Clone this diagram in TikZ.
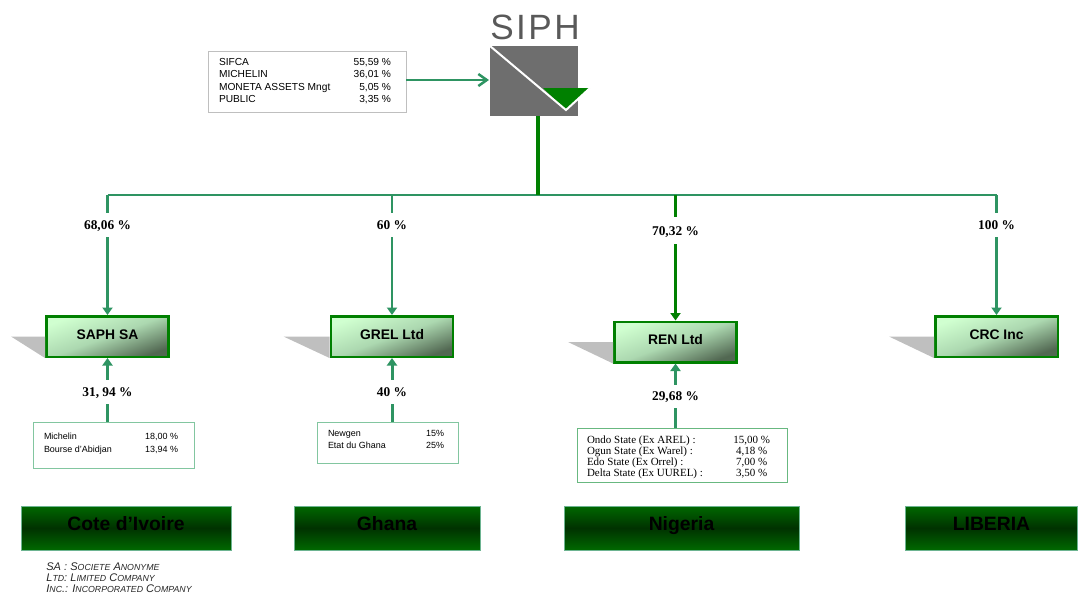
\documentclass[tikz,border=0pt]{standalone}
\usepackage{fontspec}
\setmainfont{Liberation Sans}
\newfontfamily\serifnum{Liberation Serif}
\usetikzlibrary{arrows.meta}
\definecolor{seagreen}{RGB}{46,148,98}
\definecolor{darkgreen}{RGB}{0,128,0}
\definecolor{logogray}{RGB}{110,110,110}
\definecolor{shadowgray}{RGB}{191,191,191}
\definecolor{boxlight}{RGB}{208,255,208}
\definecolor{boxmid}{RGB}{172,216,176}
\definecolor{boxdark}{RGB}{82,104,82}
\definecolor{barouter}{RGB}{0,104,0}
\definecolor{barinner}{RGB}{0,50,0}
\definecolor{holderline}{RGB}{130,198,160}
\newcommand{\smc}[1]{{\fontsize{5.0}{6.3}\selectfont #1}}
\newcommand{\pctrows}[3]{\begin{tabular*}{#1}{@{}l@{\extracolsep{\fill}}#2@{}}#3\end{tabular*}}
\tikzset{
company/.style={draw=darkgreen, line width=0.05cm, shade, top color=boxlight, bottom color=boxdark, middle color=boxmid, shading angle=20, minimum width=2.45cm, minimum height=0.81cm, text height=0.3cm, text depth=0.2cm, inner sep=0pt, font=\bfseries\fontsize{7.9}{9}\selectfont},
country/.style={draw=seagreen!70, line width=0.4pt, shade, top color=barouter, bottom color=barouter, middle color=barinner, minimum height=0.88cm, text height=0.3cm, text depth=0.192cm, inner sep=0pt, font=\bfseries\fontsize{11}{13}\selectfont},
holder/.style={draw=holderline, line width=0.55pt, inner sep=0pt, font=\fontsize{5.1}{7.2}\selectfont},
pctlabel/.style={minimum height=0.48cm, text height=0.22cm, text depth=0.03cm, inner sep=0pt, outer sep=0pt, font=\serifnum\bfseries\fontsize{7.6}{9}\selectfont},
busline/.style={draw=seagreen, line width=0.055cm},
owned/.style={busline, -{Triangle[width=0.2cm,length=0.15cm]}},
ownedren/.style={draw=darkgreen, line width=0.06cm, -{Triangle[width=0.2cm,length=0.15cm]}},
minority/.style={draw=seagreen, line width=0.06cm},
minorityarrow/.style={minority, -{Triangle[width=0.2cm,length=0.15cm]}},
shadowfill/.style={fill=shadowgray}
}
\begin{document}
\begin{tikzpicture}
[x=0.02cm, y=-0.02cm]
\useasboundingbox (0,0) rectangle (1078,593);
\node [text=black!65, font=\fontsize{20}{24}\selectfont\addfontfeature{LetterSpace=7}, inner sep=0pt] (siph) at (535,27.5) {SIPH};
\node [fill=logogray, minimum width=1.76cm, minimum height=1.4cm, inner sep=0pt, outer sep=0pt] (logo) at (534,81) {};
\coordinate (kink) at (566,110);
\coordinate (logoin) at (489,80);
\fill [darkgreen] (543,88) -- (590,88) -- (kink) -- cycle;
\draw [white, line width=0.04cm] (logo.north west) -- (kink) -- (590,88);
\node [holder, draw=shadowgray, font=\fontsize{5.8}{6.95}\selectfont, minimum width=3.96cm, minimum height=1.22cm] (sifca) at (307,81.5) {\pctrows{3.44cm}{r}{SIFCA & 55,59 \%\\ MICHELIN & 36,01 \%\\ MONETA ASSETS Mngt & 5,05 \%\\ PUBLIC & 3,35 \%}\kern0.08cm};
\draw [draw=seagreen, line width=0.05cm, -{Straight Barb[length=0.17cm,width=0.24cm]}] (sifca.east |- logoin) -- (logoin);
\coordinate (busmid) at (538,195);
\coordinate (busa) at (107.5,195);
\coordinate (busb) at (392,195);
\coordinate (busc) at (675.5,195);
\coordinate (busd) at (996.5,195);
\draw [busline, rounded corners=0.5pt] (busa) -- (busd);
\draw [draw=darkgreen, line width=0.08cm] (logo.south -| busmid) -- (busmid);
\node [company] (saph) at (107.5,336.5) {SAPH SA};
\node [company] (grel) at (392,336.5) {GREL Ltd};
\node [company] (ren) at (675.5,342) {REN Ltd};
\node [company] (crc) at (996.5,336.5) {CRC Inc};
\fill [shadowfill] (saph.west) -- ++(-34,0) -- (saph.south west) -- cycle;
\fill [shadowfill] (grel.west) -- ++(-46,0) -- (grel.south west) -- cycle;
\fill [shadowfill] (ren.west) -- ++(-45,0) -- (ren.south west) -- cycle;
\fill [shadowfill] (crc.west) -- ++(-45,0) -- (crc.south west) -- cycle;
\node [pctlabel] (pcta) at (107.5,225) {68,06 \%};
\node [pctlabel] (pctb) at (392,225) {60 \%};
\node [pctlabel, minimum height=0.54cm] (pctc) at (675.5,230.5) {70,32 \%};
\node [pctlabel] (pctd) at (996.5,225) {100 \%};
\draw [busline] (busa) -- (pcta);
\draw [owned] (pcta) -- (saph);
\draw [busline] (busb) -- (pctb);
\draw [owned] (pctb) -- (grel);
\draw [draw=darkgreen, line width=0.06cm] (busc) -- (pctc);
\draw [ownedren] (pctc) -- (ren);
\draw [busline] (busd) -- (pctd);
\draw [owned] (pctd) -- (crc);
\node [holder, minimum width=3.22cm, minimum height=0.92cm] (saphhold) at (113.5,445) {\pctrows{2.68cm}{r}{Michelin & 18,00 \%\\ Bourse d'Abidjan & 13,94 \%\\[0.06cm]}\kern0.1cm};
\node [holder, minimum width=2.82cm, minimum height=0.82cm] (grelhold) at (387.5,442.5) {\pctrows{2.32cm}{r}{Newgen & 15\%\\ Etat du Ghana & 25\%\\[0.1cm]}\kern0.06cm};
\node [holder, draw=holderline!80!darkgreen, font=\serifnum\fontsize{6.25}{6.3}\selectfont, minimum width=4.2cm, minimum height=1.08cm] (renhold) at (682,455) {\pctrows{3.66cm}{c}{\rule{0pt}{7.25pt}Ondo State (Ex AREL) : & 15,00 \%\\ Ogun State (Ex Warel) : & 4,18 \%\\ Edo State (Ex Orrel) : & 7,00 \%\\ Delta State (Ex UUREL) : & 3,50 \%}\kern0.14cm};
\node [pctlabel] (pcte) at (107.5,391.5) {31, 94 \%};
\node [pctlabel] (pctf) at (392,391.5) {40 \%};
\node [pctlabel, minimum height=0.46cm] (pctg) at (675.5,396) {29,68 \%};
\draw [minority] (saphhold.north -| pcte) -- (pcte);
\draw [minorityarrow] (pcte) -- (saph);
\draw [minority] (grelhold.north -| pctf) -- (pctf);
\draw [minorityarrow] (pctf) -- (grel);
\draw [minority] (renhold.north -| pctg) -- (pctg);
\draw [minorityarrow] (pctg) -- (ren);
\node [country, minimum width=4.2cm] (civ) at (126,528) {Cote d'Ivoire};
\node [country, minimum width=3.72cm] (gha) at (387,528) {Ghana};
\node [country, minimum width=4.7cm] (nga) at (681.5,528) {Nigeria};
\node [country, minimum width=3.44cm] (lbr) at (991.5,528) {LIBERIA};
\node [anchor=north west, align=left, inner sep=0pt, font=\itshape\fontsize{6.3}{6.3}\selectfont, text=black!85] (notes) at (46,562.5) {SA : S\smc{OCIETE} A\smc{NONYME}\\ L\smc{TD}: L\smc{IMITED} C\smc{OMPANY}\\ I\smc{NC}.: I\smc{NCORPORATED} C\smc{OMPANY}};
\end{tikzpicture}
\end{document}
